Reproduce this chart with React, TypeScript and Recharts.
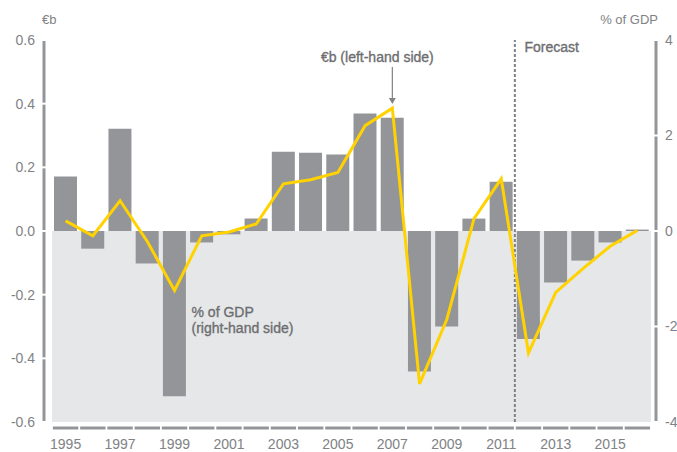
import { Bar, ComposedChart, Line, ReferenceArea, ReferenceDot, ReferenceLine, XAxis, YAxis } from "recharts";

const YEARS = [
  "1995", "1996", "1997", "1998", "1999", "2000", "2001", "2002", "2003", "2004", "2005",
  "2006", "2007", "2008", "2009", "2010", "2011", "2012", "2013", "2014", "2015", "2016",
];

// bars, % of GDP (right-hand side)
const PCT_OF_GDP = [
  1.14, -0.37, 2.14, -0.68, -3.46, -0.24, -0.07, 0.26, 1.66, 1.64, 1.6,
  2.46, 2.37, -2.94, -2.0, 0.26, 1.03, -2.26, -1.08, -0.62, -0.24, 0.03,
];

// line, €b (left-hand side)
const EUR_B = [
  0.032, -0.015, 0.095, -0.033, -0.187, -0.015, -0.003, 0.022, 0.148, 0.161, 0.184,
  0.331, 0.386, -0.48, -0.278, 0.039, 0.164, -0.383, -0.193, -0.118, -0.048, 0.002,
];

const LEFT_TICKS = [-0.6, -0.4, -0.2, 0, 0.2, 0.4, 0.6];
const RIGHT_TICKS = [-4, -2, 0, 2, 4];
const FORECAST_FROM = "2012";
const LINE_NOTE_YEAR = "2007";
const BAR_NOTE_YEAR = "1999";

const data = YEARS.map((year, i) => ({ year, pct: PCT_OF_GDP[i], eur: EUR_B[i] }));

const GREY = "#939598";
const TEXT = "#808285";
const NOTE = "#6d6e71";
const SHADE = "#e6e7e8";
const YELLOW = "#ffd200";
const FONT = "'Liberation Sans', Arial, sans-serif";
const SEG_HALF = 12.7;

const noteStyle = { fill: NOTE, stroke: NOTE, strokeWidth: 0.35, fontSize: 14, fontFamily: FONT };

function YearTick({ x = 0, y = 0, payload }: { x?: number; y?: number; payload?: { value?: string } }) {
  const year = String(payload?.value ?? "");
  const showLabel = Number(year) % 2 === 1;
  return (
    <g>
      <line x1={x - SEG_HALF} x2={x + SEG_HALF} y1={y + 6} y2={y + 6} stroke={GREY} strokeWidth={3} />
      {showLabel && (
        <text x={x} y={y + 27} textAnchor="middle" fill={TEXT} fontSize={14} fontFamily={FONT}>
          {year}
        </text>
      )}
    </g>
  );
}

function LineNote({ cx = 0, cy = 0 }: { cx?: number; cy?: number }) {
  return (
    <g>
      <text x={cx - 15} y={cy - 46} textAnchor="middle" {...noteStyle}>
        €b (left-hand side)
      </text>
      <line x1={cx} x2={cx} y1={cy - 41} y2={cy - 10} stroke={TEXT} strokeWidth={1.2} />
      <path d={`M${cx - 3.5},${cy - 10} L${cx + 3.5},${cy - 10} L${cx},${cy - 4} Z`} fill={TEXT} />
    </g>
  );
}

function BarNote({ cx = 0, cy = 0 }: { cx?: number; cy?: number }) {
  return (
    <text x={cx + 17} y={cy} {...noteStyle}>
      <tspan x={cx + 17}>% of GDP</tspan>
      <tspan x={cx + 17} dy={16.5}>(right-hand side)</tspan>
    </text>
  );
}

function ForecastNote({ cx = 0, cy = 0 }: { cx?: number; cy?: number }) {
  return (
    <text x={cx - 4} y={cy + 11.7} {...noteStyle}>
      Forecast
    </text>
  );
}

export default function App() {
  return (
    <div style={{ position: "absolute", left: 0, top: 0, width: 677, height: 452, background: "#fff" }}>
      <ComposedChart width={677} height={452} data={data} margin={{ top: 40, right: 0, bottom: 0, left: 0 }}>
        <XAxis
          dataKey="year"
          axisLine={false}
          tickLine={false}
          tickSize={0}
          tickMargin={0}
          interval={0}
          height={30}
          padding={{ left: 8, right: 5 }}
          tick={YearTick}
        />
        <YAxis
          yAxisId="left"
          domain={[-0.6, 0.6]}
          ticks={LEFT_TICKS}
          interval={0}
          width={44}
          tickFormatter={(v: number) => v.toFixed(1)}
          axisLine={{ stroke: GREY, strokeWidth: 3 }}
          tickLine={{ stroke: "#fff", strokeWidth: 2, transform: "translate(3 0)" }}
          tickSize={6}
          tickMargin={3}
          tick={{ fill: TEXT, fontSize: 14, fontFamily: FONT }}
          label={({ viewBox }: { viewBox?: { x: number; y: number; width: number } }) => (
            <text x={(viewBox?.x ?? 0) + (viewBox?.width ?? 0) - 2} y={(viewBox?.y ?? 0) - 16} fill={TEXT} fontSize={13} fontFamily={FONT}>
              €b
            </text>
          )}
        />
        <YAxis
          yAxisId="right"
          orientation="right"
          domain={[-4, 4]}
          ticks={RIGHT_TICKS}
          interval={0}
          width={21}
          axisLine={{ stroke: GREY, strokeWidth: 3 }}
          tickLine={{ stroke: "#fff", strokeWidth: 2, transform: "translate(-3 0)" }}
          tickSize={6}
          tickMargin={3}
          tick={{ fill: TEXT, fontSize: 14, fontFamily: FONT }}
          label={({ viewBox }: { viewBox?: { x: number; y: number } }) => (
            <text x={(viewBox?.x ?? 0) + 2} y={(viewBox?.y ?? 0) - 16} textAnchor="end" fill={TEXT} fontSize={13} fontFamily={FONT}>
              % of GDP
            </text>
          )}
        />
        <ReferenceArea yAxisId="left" x1={YEARS[0]} x2={YEARS[YEARS.length - 1]} y1={-0.6} y2={0} fill={SHADE} fillOpacity={1} stroke="none" />
        <Bar yAxisId="right" dataKey="pct" fill={GREY} barSize={23} isAnimationActive={false} />
        <ReferenceLine yAxisId="left" x={FORECAST_FROM} position="start" stroke={TEXT} strokeWidth={2} strokeDasharray="3 2" />
        <Line yAxisId="left" dataKey="eur" stroke={YELLOW} strokeWidth={3} dot={false} type="linear" isAnimationActive={false} />
        <ReferenceDot yAxisId="left" x={LINE_NOTE_YEAR} y={EUR_B[YEARS.indexOf(LINE_NOTE_YEAR)]} r={0} shape={LineNote} />
        <ReferenceDot yAxisId="left" x={BAR_NOTE_YEAR} y={-0.27} r={0} shape={BarNote} />
        <ReferenceDot yAxisId="left" x={FORECAST_FROM} y={0.6} r={0} shape={ForecastNote} />
      </ComposedChart>
    </div>
  );
}
